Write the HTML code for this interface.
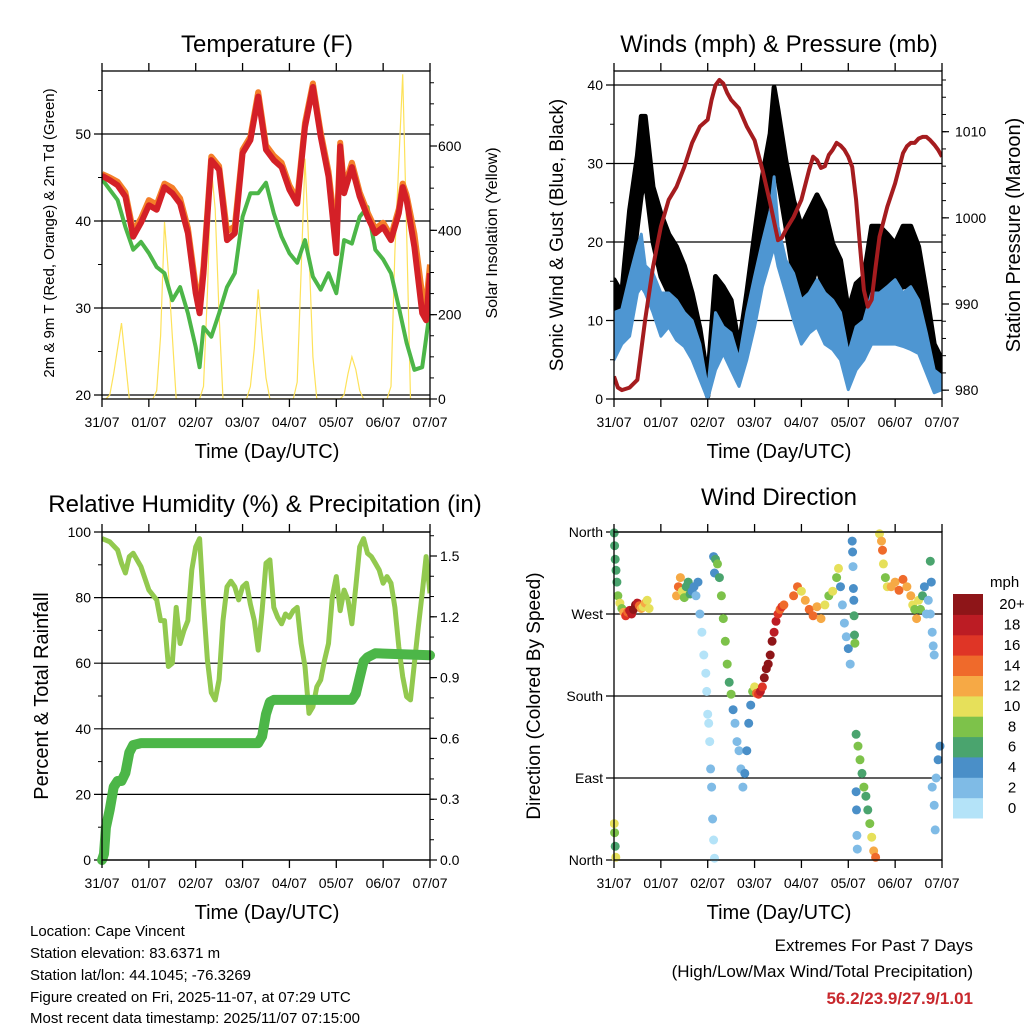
<!DOCTYPE html>
<html><head><meta charset="utf-8">
<style>
html,body{margin:0;padding:0;background:#fff;}
svg{display:block;font-family:"Liberation Sans",Arial,sans-serif;}
</style></head>
<body>
<svg id="chart" width="1024" height="1024" viewBox="0 0 1024 1024" xmlns="http://www.w3.org/2000/svg">
<defs>
<clipPath id="c1"><rect x="102" y="71" width="328" height="328"/></clipPath>
<clipPath id="c2"><rect x="614" y="71" width="328" height="328"/></clipPath>
<clipPath id="c3"><rect x="102" y="532" width="328" height="328"/></clipPath>
<clipPath id="c4"><rect x="610" y="528" width="336" height="336"/></clipPath>
</defs>
<text x="267" y="52" font-size="24" text-anchor="middle">Temperature (F)</text>
<text x="779" y="52" font-size="24" text-anchor="middle">Winds (mph) &amp; Pressure (mb)</text>
<text x="265" y="512" font-size="24" text-anchor="middle">Relative Humidity (%) &amp; Precipitation (in)</text>
<text x="779" y="505" font-size="24" text-anchor="middle">Wind Direction</text>
<text x="267" y="458" font-size="20" text-anchor="middle">Time (Day/UTC)</text>
<text x="779" y="458" font-size="20" text-anchor="middle">Time (Day/UTC)</text>
<text x="267" y="919" font-size="20" text-anchor="middle">Time (Day/UTC)</text>
<text x="779" y="919" font-size="20" text-anchor="middle">Time (Day/UTC)</text>
<text transform="translate(54,233) rotate(-90)" font-size="15" text-anchor="middle">2m &amp; 9m T (Red, Orange) &amp; 2m Td (Green)</text>
<text transform="translate(497,233) rotate(-90)" font-size="16" text-anchor="middle">Solar Insolation (Yellow)</text>
<text transform="translate(563,235) rotate(-90)" font-size="19" text-anchor="middle">Sonic Wind &amp; Gust (Blue, Black)</text>
<text transform="translate(1020,235) rotate(-90)" font-size="20" text-anchor="middle">Station Pressure (Maroon)</text>
<text transform="translate(48,696) rotate(-90)" font-size="20" text-anchor="middle">Percent &amp; Total Rainfall</text>
<text transform="translate(540,696) rotate(-90)" font-size="19" text-anchor="middle">Direction (Colored By Speed)</text>
<g font-size="15">
<text x="30" y="936">Location: Cape Vincent</text>
<text x="30" y="958">Station elevation: 83.6371 m</text>
<text x="30" y="980">Station lat/lon: 44.1045; -76.3269</text>
<text x="30" y="1002">Figure created on Fri, 2025-11-07, at 07:29 UTC</text>
<text x="30" y="1023">Most recent data timestamp: 2025/11/07 07:15:00</text>
</g>
<g font-size="17" text-anchor="end">
<text x="973" y="951">Extremes For Past 7 Days</text>
<text x="973" y="977">(High/Low/Max Wind/Total Precipitation)</text>
<text x="973" y="1004" fill="#c8282d" font-weight="bold">56.2/23.9/27.9/1.01</text>
</g>
<g id="g1"></g>
<g id="g2"></g>
<g id="g3"></g>
<g id="g4"></g>
</svg>
<script>
// ---------- data ----------
const dayLabels = ["31/07","01/07","02/07","03/07","04/07","05/07","06/07","07/07"];
const tempHours = [0,4,8,12,16,20,24,28,32,36,40,44,48,50,52,56,60,64,68,72,76,80,84,88,92,96,100,104,108,112,116,120,122,124,128,132,136,140,144,148,152,154,156,160,164,166,168];
const temp2m = [45.2,44.7,44.1,42.8,38.2,39.8,41.8,41.3,43.9,43.2,42,38.6,31.7,29.4,34,47,45.9,37.8,38.6,47.8,49.3,54.3,48.2,47,46.2,43.6,42,50.8,55.4,49.7,45.1,36.3,48.6,43.2,46.2,42.8,40.5,38.6,39.3,37.8,40.9,43.9,42.4,37,29.4,28.6,34];
const temp9m = [45.4,45.0,44.5,43.3,38.8,40.3,42.4,41.9,44.3,43.8,42.6,39.2,32.5,30.6,34.8,47.4,46.3,38.8,39.4,48.2,49.7,54.8,48.7,47.5,46.7,44.1,42.5,51.3,55.8,50.2,45.7,38,49,43.8,46.7,43.3,41,39.1,39.8,38.3,41.4,44.3,43,38.5,31.5,30.5,35];
const dewHours = [0,4,8,12,16,20,24,28,32,36,40,44,48,50,52,56,60,64,68,72,76,80,84,88,92,96,100,104,108,112,116,120,124,128,132,136,140,144,148,152,156,160,164,168];
const dewpoint = [44.8,43.6,42.4,39.3,36.7,37.6,36.3,34.7,34,30.9,32.4,29.4,25.5,23.2,27.8,26.7,29.4,32.4,34,40.5,43.2,43.2,44.4,40.9,38.2,36.3,35.2,37.8,33.6,32.1,34,31.7,37.8,37.4,40.5,41.6,36.7,35.6,34,30.1,26,22.9,23.2,29.8];
const solarHours = [0,2,4,6,8,10,12,14,26,28,30,32,34,36,38,50,52,54,56,58,60,62,74,76,78,80,82,84,86,98,100,102,104,106,108,110,122,124,126,128,130,132,134,146,148,150,152,154,156,158,168];
const solar = [0,0,10,60,120,180,90,0,0,20,150,420,300,150,0,0,30,250,550,450,200,0,0,30,120,260,150,50,0,0,40,300,570,350,100,0,0,10,60,100,70,20,0,0,30,350,560,770,400,0,0];

const windHours = [0,4,8,12,14,16,20,24,28,32,36,40,44,48,52,56,60,64,68,72,76,80,82,84,88,92,96,100,104,108,112,116,120,124,128,132,136,140,144,148,152,156,160,164,168];
const gustLow = [5.8,10,13.5,22,26,28,20,15.6,13.5,11,10,7,3.7,0.3,7,9,6.3,3.7,7,13.5,19.8,24,30,28,22,15.6,12.6,13.5,16.9,13.5,12.6,8.4,4,7,9,11,13.5,13.5,13.5,14.3,14.3,13.5,7,2.9,2.5];
const gustHigh = [15.2,13.5,24,31,36,36,27,23.6,21,19.4,17,13.5,9,2.5,15.6,14.3,12.6,6.7,13.5,21,28.3,33.8,39.7,36.8,30.4,25.3,22,24,26,24,19.8,17.7,11.3,14.7,15.6,22,22,21,19.8,22,22,19.4,13.5,7,5];
const sonicLow = [5,7,8,13.5,14.3,13.5,11,8,9.2,7.5,6.7,5,2.5,0,3.7,5.8,3.7,1.6,5,9.2,14.3,17.7,19.4,16.9,13.5,10,7,8.4,9.2,7,6.3,5,1.2,3.7,5,7,7,7,7,6.7,6.3,5.8,3.3,0.8,1.2];
const sonicHigh = [11,11.4,15.6,19.4,21,17,16,13.5,13.5,12.6,11,10,7,1.2,11,9.2,8.4,5,11,15.6,20,24,28.3,22,17.7,16,12.6,13.5,15.2,13.5,12.6,11,5.8,9.2,10,13.5,13.5,14.3,15.2,13.5,14.3,12.6,8.4,3.7,2.9];
const presHours = [0,2,4,8,12,16,20,24,28,32,36,40,44,48,50,52,54,56,58,60,64,68,72,76,80,84,86,88,92,96,100,102,104,106,108,110,112,114,116,118,120,122,124,126,128,130,132,134,136,140,144,148,150,152,154,156,158,160,162,164,166,168];
const pressure = [981.6,980.3,980,980.3,981.2,988.2,994.3,999,1002.1,1003.6,1005.9,1008.7,1010.6,1011.4,1013.7,1015.4,1016,1015.6,1014.5,1013.7,1012.7,1010.6,1009,1005.6,1001.7,997.4,997.7,998.6,1000.1,1002.1,1005.6,1007.1,1006.7,1005.8,1006,1007.3,1007.9,1008.7,1008.4,1007.9,1007.1,1005.9,1002.1,996.7,991.6,989.7,990.5,994.3,997.8,1001.3,1004,1007.5,1008.3,1008.7,1008.7,1009.2,1009.4,1009.4,1009,1008.5,1007.9,1007.1];

const rhHours = [0,4,8,10,12,14,16,20,24,28,30,32,34,36,38,40,42,44,46,48,50,52,54,56,58,60,62,64,66,68,70,72,74,76,78,80,82,84,86,88,90,92,94,96,98,100,102,104,106,108,110,112,114,116,118,120,122,124,126,128,130,132,134,136,138,140,142,144,146,148,150,152,154,156,158,160,162,164,166,168];
const rh = [98,97,94.5,90.5,87.5,92.5,93.5,89.4,82.3,79.3,73,73,59,60,77,66,70,73,88.4,95.5,98,78,61,51,48.8,55,73,83.3,85,83.3,79.3,83.3,84.4,78,73,64,76,90.5,91.5,77,74,72,75,74,76,77,66,59,44.7,46.7,52.8,54.9,61,66,80.3,86.4,76,82.3,79.3,72,83.3,95.5,98,93.5,92.5,90.5,88.4,84.4,86.4,84.4,77,65,55.9,49.8,48.8,60,71,81.3,92.5,81.3];
const precipHours = [0,1,2,4,6,8,10,12,14,16,20,80,82,84,86,88,128,130,132,134,136,140,168];
const precip = [0,0.03,0.16,0.25,0.36,0.39,0.39,0.43,0.53,0.567,0.577,0.577,0.61,0.72,0.78,0.79,0.79,0.82,0.9,0.98,1.0,1.02,1.01];

const dirHours = [0.1,0.3,0.6,1,1.5,2,3,4,5,6,7,8,9,10,11,12,13,14,15,16,17,18,32,33,34,35,36,37,38,39,40,41,42,43,44,45,46,47,47.5,48,48.5,49,49.5,50,50.5,51,51.5,51,51.5,52,53,54,55,56,57,58,59,60,61,62,63,64,65,66,67,68,69,70,71,72,73,74,75,76,77,78,79,80,81,82,83,84,85,86,87,92,94,96,98,100,102,104,106,108,110,112,114,115,116,117,118,119,120,121,122,122.2,122.4,122.6,122.8,123,123.2,123.4,124,125,126,127,128,129,130,131,132,133,134,124,124.2,124.4,124.6,136,137,137.5,138,139,140,142,144,146,148,150,152,153,154,155,156,157,158,159,160,161,162,163,162,162.5,163.5,164,163,164,165,166,167,164.5,0.1,0.3,0.6,0.9];
const dirDegrees = [359,345,330,318,305,290,282,276,272,268,272,274,270,275,280,282,279,276,278,282,285,276,290,300,310,295,288,300,305,292,295,300,290,305,270,250,225,205,185,160,150,130,100,80,45,22,2,333,315,330,325,310,290,265,240,215,195,182,165,150,130,120,100,80,95,120,150,170,185,190,183,182,185,190,200,210,215,225,240,250,262,270,275,278,280,290,300,295,285,275,268,278,265,280,290,295,310,320,300,280,260,245,232,215,350,338,322,298,285,268,247,238,138,125,110,95,80,70,55,40,25,10,3,75,55,27,12,358,350,340,325,310,300,300,305,296,308,300,290,280,275,265,285,275,290,300,270,285,270,250,328,305,235,225,80,60,90,110,125,33,40,30,15,3];
const dirSpeed = [7,7,6,6,6,8,10,9,12,16,14,18,18,20,20,18,14,12,10,12,10,10,12,14,12,10,8,6,7,6,5,4,3,4,2,1,1,0,1,0,0,1,2,2,3,0,1,4,4,6,8,6,8,8,8,8,7,8,4,3,2,2,2,2,4,4,4,5,8,10,14,16,18,16,20,20,20,20,20,18,18,16,14,16,14,14,14,10,12,14,14,12,12,10,8,10,8,10,4,2,2,2,4,2,4,4,2,4,4,6,6,8,6,8,8,6,8,6,6,8,10,12,14,4,4,2,2,10,12,14,10,8,10,12,12,14,14,12,12,10,8,12,10,8,6,4,3,2,2,2,6,4,2,2,2,2,2,4,4,2,10,8,6,10];
const speedLabels = ["0","2","4","6","8","10","12","14","16","18","20+"];
const speedColors = ["#b4e3f8","#7fbbe6","#4a8fc8","#4aa46e","#7dc24a","#e6e05a","#f6a945","#ef6a2b","#df3526","#bc1c24","#8e1518"];

// ---------- helpers ----------
const NS = "http://www.w3.org/2000/svg";
function mk(parent, tag, attrs){ const e=document.createElementNS(NS,tag); for(const k in attrs) e.setAttribute(k,attrs[k]); parent.appendChild(e); return e; }
function xs(x0,x1){ return h => x0 + h/168*(x1-x0); }
function lin(v0,v1,p0,p1){ return v => p0 + (v-v0)/(v1-v0)*(p1-p0); }
function pathOf(hs, vs, X, Y){ return hs.map((h,i)=>(i?"L":"M")+X(h).toFixed(1)+","+Y(vs[i]).toFixed(1)).join(""); }

function drawFrame(g, x0, y0, x1, y1, name){
  const r = mk(g,"rect",{x:x0,y:y0,width:x1-x0,height:y1-y0,fill:"none",stroke:"#000","stroke-width":1.3});
  
  
  const X = xs(x0,x1);
  for(let d=0; d<8; d++){
    const x = X(d*24);
    const t1 = mk(g,"line",{x1:x,x2:x,y1:y0-8,y2:y0,stroke:"#000","stroke-width":1.3});
    
    
    const t2 = mk(g,"line",{x1:x,x2:x,y1:y1,y2:y1+8,stroke:"#000","stroke-width":1.3});
    
    
    const tl = mk(g,"text",{x:x,y:y1+28,"font-size":14,"text-anchor":"middle"});
    tl.textContent = dayLabels[d];
    
    
  }
}
function leftAxis(g, x0, x1, Y, majors, labels, minors, grid, name){
  majors.forEach((v,i)=>{
    const y = Y(v);
    const l = mk(g,"line",{x1:x0-8,x2:grid?x1:x0,y1:y,y2:y,stroke:"#000","stroke-width":1.2});
    
    
    const t = mk(g,"text",{x:x0-11,y:y+5,"font-size":14,"text-anchor":"end"});
    t.textContent = labels[i];
    
    
  });
  minors.forEach(v=>{
    const y = Y(v);
    const l = mk(g,"line",{x1:x0-4,x2:x0,y1:y,y2:y,stroke:"#000","stroke-width":1});
    
    
  });
}
function rightAxis(g, x1, Y, majors, labels, minors, name, off){
  majors.forEach((v,i)=>{
    const y = Y(v);
    const l = mk(g,"line",{x1:x1,x2:x1+7,y1:y,y2:y,stroke:"#000","stroke-width":1.2});
    
    
    const t = mk(g,"text",{x:x1+off,y:y+5,"font-size":14});
    t.textContent = labels[i];
    
    
  });
  minors.forEach(v=>{
    const y = Y(v);
    const l = mk(g,"line",{x1:x1,x2:x1+4,y1:y,y2:y,stroke:"#000","stroke-width":1});
    
    
  });
}
function range(a,b,s){ const r=[]; for(let v=a; v<=b+1e-9; v+=s) r.push(Math.round(v*100)/100); return r; }

// ---------- panel 1: temperature ----------
(function(){
  const g = document.getElementById("g1");
  const X = xs(102,430), TY = lin(20,50,395,134), SY = lin(0,600,399,146);
  leftAxis(g,102,430,TY,[20,30,40,50],["20","30","40","50"],[25,35,45,55],true,"temp-y");
  rightAxis(g,430,SY,[0,200,400,600],["0","200","400","600"],range(50,750,50),"solar-y",8);
  const c = mk(g,"g",{"clip-path":"url(#c1)"});
  const s = mk(c,"path",{d:pathOf(solarHours,solar,X,SY),fill:"none",stroke:"#fde25a","stroke-width":1.2});
  
  
  const d = mk(c,"path",{d:pathOf(dewHours,dewpoint,X,TY),fill:"none",stroke:"#4cb648","stroke-width":4,"stroke-linejoin":"round"});
  
  
  const o = mk(c,"path",{d:pathOf(tempHours,temp9m,X,TY),fill:"none",stroke:"#f47f29","stroke-width":6,"stroke-linejoin":"round"});
  
  
  const r = mk(c,"path",{d:pathOf(tempHours,temp2m,X,TY),fill:"none",stroke:"#d42027","stroke-width":6,"stroke-linejoin":"round"});
  
  
  drawFrame(g,102,71,430,399,"temp");
})();

// ---------- panel 2: winds & pressure ----------
(function(){
  const g = document.getElementById("g2");
  const X = xs(614,942), WY = lin(0,40,399,85), PY = lin(990,1010,304,131.7);
  leftAxis(g,614,942,WY,[0,10,20,30,40],["0","10","20","30","40"],[5,15,25,35],true,"wind-y");
  rightAxis(g,942,PY,[980,990,1000,1010],["980","990","1000","1010"],range(980,1016,2),"pressure-y",13);
  const c = mk(g,"g",{"clip-path":"url(#c2)"});
  function band(lo,hi,fill,sw,name){
    const pts = windHours.map((h,i)=>X(h).toFixed(1)+","+WY(hi[i]).toFixed(1));
    for(let i=windHours.length-1;i>=0;i--) pts.push(X(windHours[i]).toFixed(1)+","+WY(lo[i]).toFixed(1));
    const p = mk(c,"polygon",{points:pts.join(" "),fill:fill,stroke:fill,"stroke-width":sw,"stroke-linejoin":"round"});
    
    
  }
  band(gustLow,gustHigh,"#000",5,"gust-band");
  band(sonicLow,sonicHigh,"#4e96d2",3,"sonic-wind-band");
  const p = mk(c,"path",{d:pathOf(presHours,pressure,X,PY),fill:"none",stroke:"#a51c1f","stroke-width":4,"stroke-linejoin":"round"});
  
  
  drawFrame(g,614,71,942,399,"winds");
})();

// ---------- panel 3: RH & precipitation ----------
(function(){
  const g = document.getElementById("g3");
  const X = xs(102,430), RY = lin(0,100,860,532), PY = lin(0,1.5,860,556);
  leftAxis(g,102,430,RY,[0,20,40,60,80,100],["0","20","40","60","80","100"],[10,30,50,70,90],true,"rh-y");
  rightAxis(g,430,PY,[0,0.3,0.6,0.9,1.2,1.5],["0.0","0.3","0.6","0.9","1.2","1.5"],range(0.1,1.6,0.1),"precip-y",10);
  const c = mk(g,"g",{"clip-path":"url(#c3)"});
  const r = mk(c,"path",{d:pathOf(rhHours,rh,X,RY),fill:"none",stroke:"#92c94f","stroke-width":5,"stroke-linejoin":"round"});
  
  
  const p = mk(g,"path",{d:pathOf(precipHours,precip,X,PY),fill:"none",stroke:"#4cb648","stroke-width":10,"stroke-linejoin":"round","stroke-linecap":"round"});
  
  
  drawFrame(g,102,532,430,860,"humidity");
})();

// ---------- panel 4: wind direction ----------
(function(){
  const g = document.getElementById("g4");
  const X = xs(614,942), DY = lin(0,360,860,532);
  leftAxis(g,614,942,DY,[0,90,180,270,360],["North","East","South","West","North"],[],true,"direction-y");
  const c = mk(g,"g",{"clip-path":"url(#c4)"});
  dirHours.forEach((h,i)=>{
    const k = Math.min(10, Math.floor(dirSpeed[i]/2));
    const pt = mk(c,"circle",{cx:X(h).toFixed(1),cy:DY(dirDegrees[i]).toFixed(1),r:4.5,fill:speedColors[k]});
    
    
  });
  drawFrame(g,614,532,942,860,"direction");
  const u = mk(g,"text",{x:990,y:587,"font-size":15});
  u.textContent = "mph";
  
  
  const bh = 224/11;
  speedLabels.forEach((lab,i)=>{
    const y = 594 + (10-i)*bh;
    const b = mk(g,"rect",{x:953,y:y.toFixed(1),width:30,height:(bh+0.5).toFixed(1),fill:speedColors[i]});
    
    
    const t = mk(g,"text",{x:1012,y:(y+bh/2+5).toFixed(1),"font-size":15,"text-anchor":"middle"});
    t.textContent = lab;
    
    
  });
})();
</script>
</body></html>
